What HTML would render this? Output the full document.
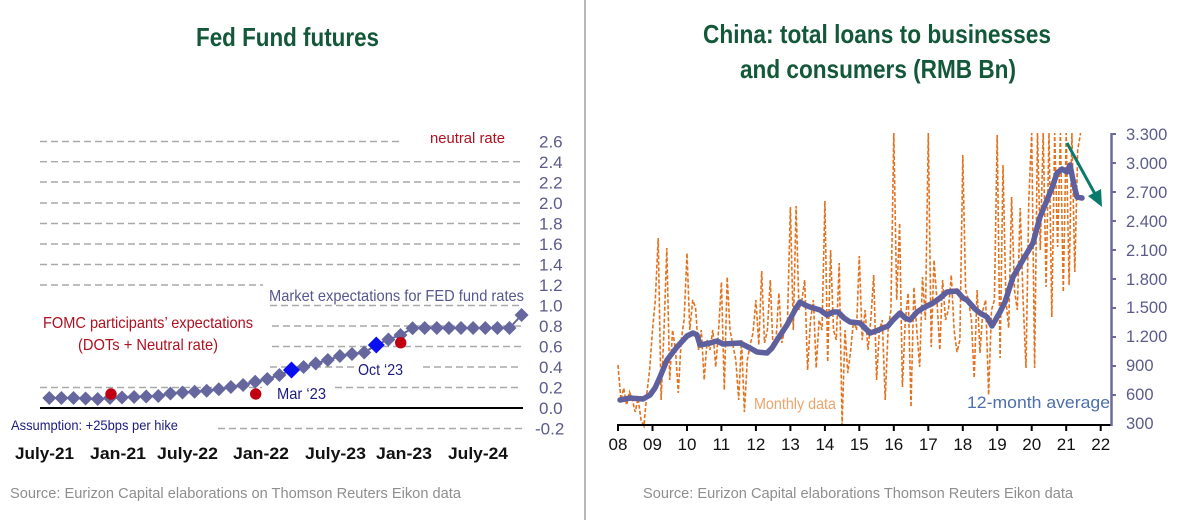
<!DOCTYPE html>
<html><head><meta charset="utf-8"><style>
html,body{margin:0;padding:0;background:#fff;}
svg{display:block;}
text{font-family:"Liberation Sans",Arial,sans-serif;}
</style></head><body>
<svg width="1188" height="520" viewBox="0 0 1188 520" xmlns="http://www.w3.org/2000/svg">
<rect width="1188" height="520" fill="#fff"/>
<line x1="585" y1="0" x2="585" y2="520" stroke="#8a8a8a" stroke-width="1.2"/>

<!-- LEFT CHART -->
<text x="196" y="46" font-size="26" font-weight="bold" fill="#14583a" textLength="183" lengthAdjust="spacingAndGlyphs">Fed Fund futures</text>

<g stroke="#a9a9a9" stroke-width="1.4" stroke-dasharray="7 4" fill="none">
<line x1="40" y1="141.5" x2="400" y2="141.5"/>
<line x1="40" y1="161.7" x2="522" y2="161.7"/>
<line x1="40" y1="182" x2="522" y2="182"/>
<line x1="40" y1="203" x2="522" y2="203"/>
<line x1="40" y1="223.5" x2="522" y2="223.5"/>
<line x1="40" y1="244" x2="522" y2="244"/>
<line x1="40" y1="264.5" x2="522" y2="264.5"/>
<line x1="40" y1="285" x2="263" y2="285"/>
<line x1="270" y1="305.5" x2="522" y2="305.5"/>
<line x1="272" y1="326" x2="522" y2="326"/>
<line x1="272" y1="346.5" x2="522" y2="346.5"/>
<line x1="270" y1="367" x2="355" y2="367"/>
<line x1="423" y1="367" x2="522" y2="367"/>
<line x1="40" y1="387.5" x2="262" y2="387.5"/>
<line x1="335" y1="387.5" x2="522" y2="387.5"/>
<line x1="218" y1="428.5" x2="522" y2="428.5"/>
</g>
<line x1="40" y1="408" x2="523" y2="408" stroke="#000" stroke-width="2"/>

<polyline fill="none" stroke="#6466a0" stroke-width="2" points="49.3,398 61.4,398 73.5,398 85.6,398.5 97.7,399 109.9,398 122,397.5 134.1,397 146.2,396.5 158.3,396 170.4,393.5 182.5,392.5 194.6,391.7 206.7,390.7 218.8,389.3 230.9,387 243.1,385 255.2,381.7 267.3,379 279.4,375 291.5,370 303.6,367 315.7,363.5 327.8,360 339.9,356 352,354 364.2,352.5 376.3,345 388.4,339.5 400.5,335 412.6,328.3 424.7,328 436.8,328 448.9,328 461,328 473.1,328 485.3,328 497.4,328 509.5,328 521.6,315"/>
<g fill="#65679e">
<path d="M49.3,391l7,7l-7,7l-7,-7z"/>
<path d="M61.4,391l7,7l-7,7l-7,-7z"/>
<path d="M73.5,391l7,7l-7,7l-7,-7z"/>
<path d="M85.6,391.5l7,7l-7,7l-7,-7z"/>
<path d="M97.7,392l7,7l-7,7l-7,-7z"/>
<path d="M109.9,391l7,7l-7,7l-7,-7z"/>
<path d="M122,390.5l7,7l-7,7l-7,-7z"/>
<path d="M134.1,390l7,7l-7,7l-7,-7z"/>
<path d="M146.2,389.5l7,7l-7,7l-7,-7z"/>
<path d="M158.3,389l7,7l-7,7l-7,-7z"/>
<path d="M170.4,386.5l7,7l-7,7l-7,-7z"/>
<path d="M182.5,385.5l7,7l-7,7l-7,-7z"/>
<path d="M194.6,384.7l7,7l-7,7l-7,-7z"/>
<path d="M206.7,383.7l7,7l-7,7l-7,-7z"/>
<path d="M218.8,382.3l7,7l-7,7l-7,-7z"/>
<path d="M230.9,380l7,7l-7,7l-7,-7z"/>
<path d="M243.1,378l7,7l-7,7l-7,-7z"/>
<path d="M255.2,374.7l7,7l-7,7l-7,-7z"/>
<path d="M267.3,372l7,7l-7,7l-7,-7z"/>
<path d="M279.4,368l7,7l-7,7l-7,-7z"/>
<path d="M303.6,360l7,7l-7,7l-7,-7z"/>
<path d="M315.7,356.5l7,7l-7,7l-7,-7z"/>
<path d="M327.8,353l7,7l-7,7l-7,-7z"/>
<path d="M339.9,349l7,7l-7,7l-7,-7z"/>
<path d="M352,347l7,7l-7,7l-7,-7z"/>
<path d="M364.2,345.5l7,7l-7,7l-7,-7z"/>
<path d="M388.4,332.5l7,7l-7,7l-7,-7z"/>
<path d="M400.5,328l7,7l-7,7l-7,-7z"/>
<path d="M412.6,321.3l7,7l-7,7l-7,-7z"/>
<path d="M424.7,321l7,7l-7,7l-7,-7z"/>
<path d="M436.8,321l7,7l-7,7l-7,-7z"/>
<path d="M448.9,321l7,7l-7,7l-7,-7z"/>
<path d="M461,321l7,7l-7,7l-7,-7z"/>
<path d="M473.1,321l7,7l-7,7l-7,-7z"/>
<path d="M485.3,321l7,7l-7,7l-7,-7z"/>
<path d="M497.4,321l7,7l-7,7l-7,-7z"/>
<path d="M509.5,321l7,7l-7,7l-7,-7z"/>
<path d="M521.6,308l7,7l-7,7l-7,-7z"/>
</g>
<g fill="#0a0ff0">
<path d="M291.5,361.5l8.5,8.5l-8.5,8.5l-8.5,-8.5z"/>
<path d="M376.3,336.5l8.5,8.5l-8.5,8.5l-8.5,-8.5z"/>
</g>
<g fill="#c00010">
<circle cx="111" cy="394" r="5.7"/>
<circle cx="255.7" cy="394" r="5.7"/>
<circle cx="400.7" cy="342.7" r="5.7"/>
</g>

<text x="430" y="143" font-size="15" fill="#b01020" textLength="75" lengthAdjust="spacingAndGlyphs">neutral rate</text>
<text x="269" y="301" font-size="16" fill="#56578c" textLength="255" lengthAdjust="spacingAndGlyphs">Market expectations for FED fund rates</text>
<text x="43" y="328" font-size="16" fill="#b01020" textLength="210" lengthAdjust="spacingAndGlyphs">FOMC participants’ expectations</text>
<text x="78" y="350" font-size="16" fill="#b01020" textLength="140" lengthAdjust="spacingAndGlyphs">(DOTs + Neutral rate)</text>
<text x="277" y="399" font-size="16" fill="#1c1c80" textLength="49" lengthAdjust="spacingAndGlyphs">Mar ‘23</text>
<text x="358" y="375" font-size="16" fill="#1c1c80" textLength="45" lengthAdjust="spacingAndGlyphs">Oct ‘23</text>
<text x="11" y="430" font-size="14" fill="#1c1c80" textLength="167" lengthAdjust="spacingAndGlyphs">Assumption: +25bps per hike</text>

<g font-size="17" fill="#5b5b8c">
<text x="539" y="147.5">2.6</text>
<text x="539" y="168">2.4</text>
<text x="539" y="188.5">2.2</text>
<text x="539" y="209">2.0</text>
<text x="539" y="229.5">1.8</text>
<text x="539" y="250">1.6</text>
<text x="539" y="270.5">1.4</text>
<text x="539" y="291">1.2</text>
<text x="539" y="311.5">1.0</text>
<text x="539" y="332">0.8</text>
<text x="539" y="352.5">0.6</text>
<text x="539" y="373">0.4</text>
<text x="539" y="393.5">0.2</text>
<text x="539" y="414">0.0</text>
<text x="535" y="434.5">-0.2</text>
</g>

<g font-size="17" font-weight="bold" fill="#111">
<text x="15" y="459" textLength="59" lengthAdjust="spacingAndGlyphs">July-21</text>
<text x="90" y="459" textLength="56" lengthAdjust="spacingAndGlyphs">Jan-21</text>
<text x="157" y="459" textLength="61" lengthAdjust="spacingAndGlyphs">July-22</text>
<text x="233" y="459" textLength="56" lengthAdjust="spacingAndGlyphs">Jan-22</text>
<text x="305" y="459" textLength="61" lengthAdjust="spacingAndGlyphs">July-23</text>
<text x="376" y="459" textLength="56" lengthAdjust="spacingAndGlyphs">Jan-23</text>
<text x="448" y="459" textLength="60" lengthAdjust="spacingAndGlyphs">July-24</text>
</g>
<text x="10" y="498" font-size="15" fill="#8e8e8e" textLength="451" lengthAdjust="spacingAndGlyphs">Source: Eurizon Capital elaborations on Thomson Reuters Eikon data</text>

<!-- RIGHT CHART -->
<text x="703" y="43" font-size="26" font-weight="bold" fill="#14583a" textLength="348" lengthAdjust="spacingAndGlyphs">China: total loans to businesses</text>
<text x="740" y="78" font-size="26" font-weight="bold" fill="#14583a" textLength="276" lengthAdjust="spacingAndGlyphs">and consumers (RMB Bn)</text>

<polyline fill="none" stroke="#e3721f" stroke-width="1.6" stroke-dasharray="4 2" points="618,365 620.9,400 623.7,388 626.6,405 629.5,392 632.4,400 635.2,412 638.1,398 641,420 643.9,426 646.7,395 649.6,370 652.5,330 655.3,300 658.2,238 661.1,400 664,330 666.8,248 669.7,380 672.6,330 675.5,350 678.3,393 681.2,340 684.1,320 687,253 689.8,330 692.7,300 695.6,308 698.4,350 701.3,330 704.2,380 707.1,340 709.9,350 712.8,330 715.7,367 718.6,330 721.4,282 724.3,390 727.2,277 730,330 732.9,345 735.8,360 738.7,400 741.5,340 744.4,412 747.3,360 750.2,345 753,333 755.9,300 758.8,345 761.7,271 764.5,343 767.4,330 770.3,280 773.1,350 776,340 778.9,293 781.8,343 784.6,330 787.5,320 790.4,207 793.3,330 796.1,206 799,310 801.9,300 804.7,280 807.6,370 810.5,320 813.4,300 816.2,368 819.1,320 822,330 824.9,201 827.7,362 830.6,250 833.5,330 836.3,340 839.2,263 842.1,425 845,330 847.8,373 850.7,350 853.6,320 856.5,330 859.3,256 862.2,340 865.1,310 868,350 870.8,320 873.7,275 876.6,380 879.4,330 882.3,320 885.2,400 888.1,330 890.9,310 893.8,133 896.7,300 899.6,223 902.4,387 905.3,320 908.2,293 911,407 913.9,287 916.8,330 919.7,367 922.5,277 925.4,320 928.3,133 931.2,347 934,260 936.9,300 939.8,350 942.6,280 945.5,320 948.4,310 951.3,275 954.1,330 957,352 959.9,340 962.8,155 965.6,290 968.5,300 971.4,320 974.2,378 977.1,290 980,353 982.9,310 985.7,300 988.6,395 991.5,310 994.4,300 997.2,135 1000.1,358 1003,165 1005.9,300 1008.7,328 1011.6,197 1014.5,290 1017.3,310 1020.2,208 1023.1,300 1026,368 1028.8,200 1031.7,133 1034.6,368 1037.5,133 1040.3,250 1043.2,133 1046.1,287 1049,133 1051.8,317 1054.7,133 1057.6,247 1060.4,133 1063.3,292 1066.2,133 1069.1,285 1071.9,133 1074.8,272 1077.7,150 1080.6,133"/>

<polyline fill="none" stroke="#5e5f9d" stroke-width="5.5" stroke-linejoin="round" stroke-linecap="round" points="620,400 630,398 643,399 650,395 655,388 660,377 667,360 677,347 687,336 693,333 697,335 700,345 710,343 717,341 723,344 740,343 750,348 757,352 767,353 772,348 777,340 787,325 795,310 800,302 805,305 810,307 820,310 827,315 833,312 838,312 844,318 850,322 860,323 865,328 870,333 876,331 883,328 888,326 893,320 900,313 905,318 910,320 917,312 923,308 933,303 940,298 947,292 957,291 963,298 967,300 975,309 980,313 987,317 992,326 1000,312 1005,302 1013,277 1020,265 1027,253 1033,243 1040,217 1047,200 1052,188 1057,173 1062,169 1067,172 1070,165 1074,185 1077,197 1082,198"/>

<line x1="1067" y1="143" x2="1095" y2="194" stroke="#0b7a6c" stroke-width="3"/>
<polygon points="1102,207 1088,196 1101,189" fill="#0b7a6c"/>

<line x1="617" y1="425" x2="1112" y2="425" stroke="#000" stroke-width="2"/>
<g stroke="#000" stroke-width="2">
<line x1="618" y1="425" x2="618" y2="431"/>
<line x1="652.5" y1="425" x2="652.5" y2="431"/>
<line x1="687" y1="425" x2="687" y2="431"/>
<line x1="721.4" y1="425" x2="721.4" y2="431"/>
<line x1="755.9" y1="425" x2="755.9" y2="431"/>
<line x1="790.4" y1="425" x2="790.4" y2="431"/>
<line x1="824.9" y1="425" x2="824.9" y2="431"/>
<line x1="859.3" y1="425" x2="859.3" y2="431"/>
<line x1="893.8" y1="425" x2="893.8" y2="431"/>
<line x1="928.3" y1="425" x2="928.3" y2="431"/>
<line x1="962.8" y1="425" x2="962.8" y2="431"/>
<line x1="997.2" y1="425" x2="997.2" y2="431"/>
<line x1="1031.7" y1="425" x2="1031.7" y2="431"/>
<line x1="1066.2" y1="425" x2="1066.2" y2="431"/>
<line x1="1100.7" y1="425" x2="1100.7" y2="431"/>
</g>
<line x1="1111.5" y1="133" x2="1111.5" y2="426" stroke="#6b6b9b" stroke-width="2.5"/>
<g stroke="#6b6b9b" stroke-width="2">
<line x1="1111" y1="134" x2="1116" y2="134"/>
<line x1="1111" y1="163" x2="1116" y2="163"/>
<line x1="1111" y1="192" x2="1116" y2="192"/>
<line x1="1111" y1="221" x2="1116" y2="221"/>
<line x1="1111" y1="250" x2="1116" y2="250"/>
<line x1="1111" y1="279" x2="1116" y2="279"/>
<line x1="1111" y1="308" x2="1116" y2="308"/>
<line x1="1111" y1="337" x2="1116" y2="337"/>
<line x1="1111" y1="366" x2="1116" y2="366"/>
<line x1="1111" y1="395" x2="1116" y2="395"/>
</g>
<g font-size="16.5" fill="#5b5b8c">
<text x="1126" y="140">3.300</text>
<text x="1126" y="169">3.000</text>
<text x="1126" y="198">2.700</text>
<text x="1126" y="227">2.400</text>
<text x="1126" y="256">2.100</text>
<text x="1126" y="285">1.800</text>
<text x="1126" y="313">1.500</text>
<text x="1126" y="342">1.200</text>
<text x="1126" y="371">900</text>
<text x="1126" y="400">600</text>
<text x="1126" y="429">300</text>
</g>
<g font-size="17" fill="#111" text-anchor="middle">
<text x="618" y="450">08</text>
<text x="652.5" y="450">09</text>
<text x="687" y="450">10</text>
<text x="721.4" y="450">11</text>
<text x="755.9" y="450">12</text>
<text x="790.4" y="450">13</text>
<text x="824.9" y="450">14</text>
<text x="859.3" y="450">15</text>
<text x="893.8" y="450">16</text>
<text x="928.3" y="450">17</text>
<text x="962.8" y="450">18</text>
<text x="997.2" y="450">19</text>
<text x="1031.7" y="450">20</text>
<text x="1066.2" y="450">21</text>
<text x="1100.7" y="450">22</text>
</g>
<text x="754" y="409" font-size="16" fill="#eca46c" textLength="82" lengthAdjust="spacingAndGlyphs">Monthly data</text>
<text x="967" y="408" font-size="17" fill="#4e6fae" textLength="143" lengthAdjust="spacingAndGlyphs">12-month average</text>
<text x="643" y="498" font-size="15" fill="#8e8e8e" textLength="430" lengthAdjust="spacingAndGlyphs">Source: Eurizon Capital elaborations Thomson Reuters Eikon data</text>
</svg>
</body></html>
